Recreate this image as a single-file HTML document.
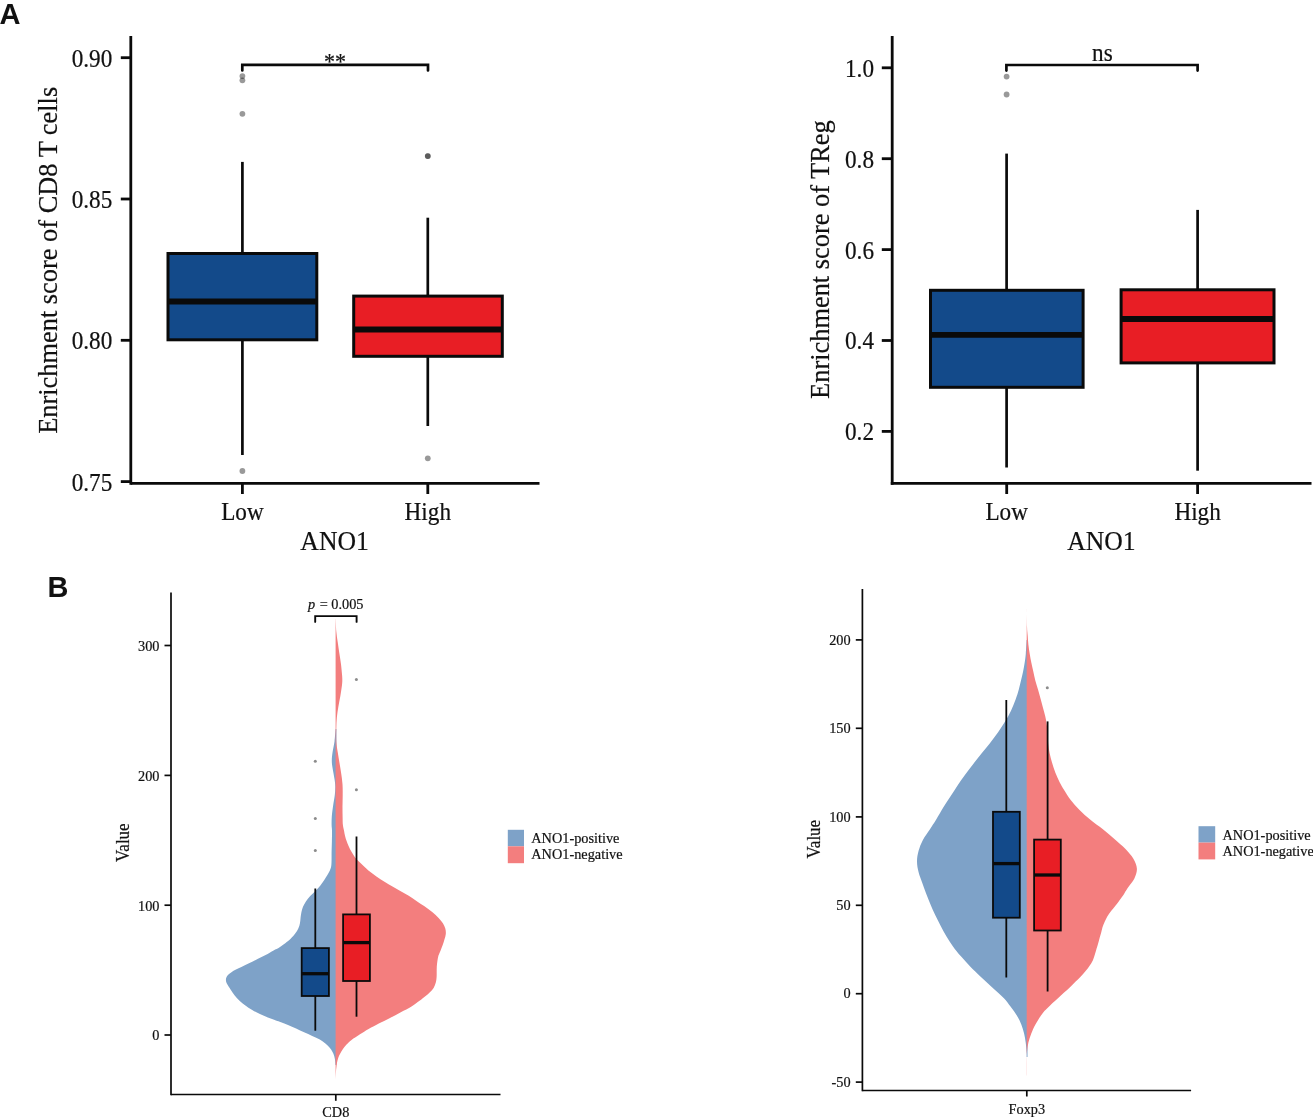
<!DOCTYPE html>
<html><head><meta charset="utf-8"><title>Figure</title>
<style>
html,body{margin:0;padding:0;background:#fff;}
body{width:1313px;height:1119px;overflow:hidden;font-family:"Liberation Serif",serif;}
svg{position:absolute;left:0;top:0;display:block;will-change:transform;}
text{fill:#111;}
</style></head><body>
<svg width="1313" height="1119" viewBox="0 0 1313 1119">
<rect width="1313" height="1119" fill="#fff"/>
<text transform="translate(-0.40,23.80) scale(0.970,0.990)" font-family="Liberation Sans, sans-serif" font-size="30.00" font-weight="bold" text-anchor="start" >A</text>
<text transform="translate(47.60,596.60) scale(0.965,1.010)" font-family="Liberation Sans, sans-serif" font-size="30.00" font-weight="bold" text-anchor="start" >B</text>
<line x1="242.40" y1="161.90" x2="242.40" y2="253.00" stroke="#0a0a0a" stroke-width="2.70" stroke-linecap="butt"/>
<line x1="242.40" y1="340.00" x2="242.40" y2="455.00" stroke="#0a0a0a" stroke-width="2.70" stroke-linecap="butt"/>
<line x1="427.80" y1="217.70" x2="427.80" y2="296.00" stroke="#0a0a0a" stroke-width="2.70" stroke-linecap="butt"/>
<line x1="427.80" y1="356.00" x2="427.80" y2="426.00" stroke="#0a0a0a" stroke-width="2.70" stroke-linecap="butt"/>
<rect x="168.00" y="253.50" width="148.80" height="86.30" fill="#134a8a" stroke="#0a0a0a" stroke-width="3.00"/>
<line x1="168.00" y1="301.50" x2="316.80" y2="301.50" stroke="#0a0a0a" stroke-width="5.80" stroke-linecap="butt"/>
<rect x="353.70" y="296.10" width="148.60" height="60.20" fill="#e81e25" stroke="#0a0a0a" stroke-width="3.00"/>
<line x1="353.70" y1="329.50" x2="502.30" y2="329.50" stroke="#0a0a0a" stroke-width="5.80" stroke-linecap="butt"/>
<circle cx="242.40" cy="76.10" r="2.90" fill="#000" fill-opacity="0.4"/>
<circle cx="242.40" cy="80.30" r="2.90" fill="#000" fill-opacity="0.4"/>
<circle cx="242.40" cy="113.80" r="2.90" fill="#000" fill-opacity="0.4"/>
<circle cx="242.40" cy="471.00" r="2.90" fill="#000" fill-opacity="0.4"/>
<circle cx="427.80" cy="156.10" r="2.90" fill="#000" fill-opacity="0.4"/>
<circle cx="427.80" cy="156.10" r="2.90" fill="#000" fill-opacity="0.4"/>
<circle cx="427.80" cy="458.30" r="2.90" fill="#000" fill-opacity="0.4"/>
<path d="M242.3,70.4 L242.3,64.9 L428,64.9 L428,70.4" fill="none" stroke="#0a0a0a" stroke-width="2.7" stroke-linecap="round" stroke-linejoin="miter"/>
<text transform="translate(335.00,68.60) scale(1.000,1.050)" font-family="Liberation Serif, serif" font-size="22.00" font-weight="normal" text-anchor="middle" stroke="#111" stroke-width="0.20" >**</text>
<line x1="130.80" y1="36.00" x2="130.80" y2="484.70" stroke="#0a0a0a" stroke-width="2.80" stroke-linecap="butt"/>
<line x1="130.80" y1="483.30" x2="539.50" y2="483.30" stroke="#0a0a0a" stroke-width="2.80" stroke-linecap="butt"/>
<line x1="120.80" y1="57.70" x2="130.80" y2="57.70" stroke="#0a0a0a" stroke-width="2.80" stroke-linecap="butt"/>
<text transform="translate(112.30,66.60) scale(1.000,1.050)" font-family="Liberation Serif, serif" font-size="23.20" font-weight="normal" text-anchor="end" stroke="#111" stroke-width="0.20" >0.90</text>
<line x1="120.80" y1="199.00" x2="130.80" y2="199.00" stroke="#0a0a0a" stroke-width="2.80" stroke-linecap="butt"/>
<text transform="translate(112.30,207.90) scale(1.000,1.050)" font-family="Liberation Serif, serif" font-size="23.20" font-weight="normal" text-anchor="end" stroke="#111" stroke-width="0.20" >0.85</text>
<line x1="120.80" y1="340.30" x2="130.80" y2="340.30" stroke="#0a0a0a" stroke-width="2.80" stroke-linecap="butt"/>
<text transform="translate(112.30,349.20) scale(1.000,1.050)" font-family="Liberation Serif, serif" font-size="23.20" font-weight="normal" text-anchor="end" stroke="#111" stroke-width="0.20" >0.80</text>
<line x1="120.80" y1="481.60" x2="130.80" y2="481.60" stroke="#0a0a0a" stroke-width="2.80" stroke-linecap="butt"/>
<text transform="translate(112.30,490.50) scale(1.000,1.050)" font-family="Liberation Serif, serif" font-size="23.20" font-weight="normal" text-anchor="end" stroke="#111" stroke-width="0.20" >0.75</text>
<line x1="242.40" y1="484.00" x2="242.40" y2="494.00" stroke="#0a0a0a" stroke-width="2.80" stroke-linecap="butt"/>
<text transform="translate(242.40,519.70) scale(1.000,1.050)" font-family="Liberation Serif, serif" font-size="23.20" font-weight="normal" text-anchor="middle" stroke="#111" stroke-width="0.20" >Low</text>
<line x1="427.80" y1="484.00" x2="427.80" y2="494.00" stroke="#0a0a0a" stroke-width="2.80" stroke-linecap="butt"/>
<text transform="translate(427.80,519.70) scale(1.000,1.050)" font-family="Liberation Serif, serif" font-size="23.20" font-weight="normal" text-anchor="middle" stroke="#111" stroke-width="0.20" >High</text>
<text transform="translate(334.60,550.00) scale(1.000,1.050)" font-family="Liberation Serif, serif" font-size="25.70" font-weight="normal" text-anchor="middle" stroke="#111" stroke-width="0.20" >ANO1</text>
<text transform="translate(57.00,260.30) rotate(-90) scale(1,1.050)" font-family="Liberation Serif, serif" font-size="26.40" text-anchor="middle" stroke="#111" stroke-width="0.20">Enrichment score of CD8 T cells</text>
<line x1="1006.60" y1="153.60" x2="1006.60" y2="290.00" stroke="#0a0a0a" stroke-width="2.70" stroke-linecap="butt"/>
<line x1="1006.60" y1="388.00" x2="1006.60" y2="467.50" stroke="#0a0a0a" stroke-width="2.70" stroke-linecap="butt"/>
<line x1="1197.60" y1="209.90" x2="1197.60" y2="290.00" stroke="#0a0a0a" stroke-width="2.70" stroke-linecap="butt"/>
<line x1="1197.60" y1="363.00" x2="1197.60" y2="470.70" stroke="#0a0a0a" stroke-width="2.70" stroke-linecap="butt"/>
<rect x="930.50" y="290.30" width="152.60" height="97.00" fill="#134a8a" stroke="#0a0a0a" stroke-width="3.00"/>
<line x1="930.50" y1="334.80" x2="1083.10" y2="334.80" stroke="#0a0a0a" stroke-width="5.80" stroke-linecap="butt"/>
<rect x="1121.10" y="289.80" width="152.90" height="73.10" fill="#e81e25" stroke="#0a0a0a" stroke-width="3.00"/>
<line x1="1121.10" y1="319.00" x2="1274.00" y2="319.00" stroke="#0a0a0a" stroke-width="5.80" stroke-linecap="butt"/>
<circle cx="1006.60" cy="76.60" r="2.90" fill="#000" fill-opacity="0.4"/>
<circle cx="1006.60" cy="94.50" r="2.90" fill="#000" fill-opacity="0.4"/>
<path d="M1006.4,70.6 L1006.4,65.0 L1197.6,65.0 L1197.6,70.6" fill="none" stroke="#0a0a0a" stroke-width="2.7" stroke-linecap="round" stroke-linejoin="miter"/>
<text transform="translate(1102.40,60.80) scale(1.000,1.050)" font-family="Liberation Serif, serif" font-size="23.20" font-weight="normal" text-anchor="middle" stroke="#111" stroke-width="0.20" >ns</text>
<line x1="892.20" y1="36.00" x2="892.20" y2="484.70" stroke="#0a0a0a" stroke-width="2.80" stroke-linecap="butt"/>
<line x1="890.80" y1="483.30" x2="1311.50" y2="483.30" stroke="#0a0a0a" stroke-width="2.80" stroke-linecap="butt"/>
<line x1="881.80" y1="67.80" x2="892.20" y2="67.80" stroke="#0a0a0a" stroke-width="2.80" stroke-linecap="butt"/>
<text transform="translate(874.00,76.70) scale(1.000,1.050)" font-family="Liberation Serif, serif" font-size="23.20" font-weight="normal" text-anchor="end" stroke="#111" stroke-width="0.20" >1.0</text>
<line x1="881.80" y1="158.70" x2="892.20" y2="158.70" stroke="#0a0a0a" stroke-width="2.80" stroke-linecap="butt"/>
<text transform="translate(874.00,167.60) scale(1.000,1.050)" font-family="Liberation Serif, serif" font-size="23.20" font-weight="normal" text-anchor="end" stroke="#111" stroke-width="0.20" >0.8</text>
<line x1="881.80" y1="249.60" x2="892.20" y2="249.60" stroke="#0a0a0a" stroke-width="2.80" stroke-linecap="butt"/>
<text transform="translate(874.00,258.50) scale(1.000,1.050)" font-family="Liberation Serif, serif" font-size="23.20" font-weight="normal" text-anchor="end" stroke="#111" stroke-width="0.20" >0.6</text>
<line x1="881.80" y1="340.50" x2="892.20" y2="340.50" stroke="#0a0a0a" stroke-width="2.80" stroke-linecap="butt"/>
<text transform="translate(874.00,349.40) scale(1.000,1.050)" font-family="Liberation Serif, serif" font-size="23.20" font-weight="normal" text-anchor="end" stroke="#111" stroke-width="0.20" >0.4</text>
<line x1="881.80" y1="431.40" x2="892.20" y2="431.40" stroke="#0a0a0a" stroke-width="2.80" stroke-linecap="butt"/>
<text transform="translate(874.00,440.30) scale(1.000,1.050)" font-family="Liberation Serif, serif" font-size="23.20" font-weight="normal" text-anchor="end" stroke="#111" stroke-width="0.20" >0.2</text>
<line x1="1006.70" y1="484.00" x2="1006.70" y2="494.00" stroke="#0a0a0a" stroke-width="2.80" stroke-linecap="butt"/>
<text transform="translate(1006.70,519.70) scale(1.000,1.050)" font-family="Liberation Serif, serif" font-size="23.20" font-weight="normal" text-anchor="middle" stroke="#111" stroke-width="0.20" >Low</text>
<line x1="1197.60" y1="484.00" x2="1197.60" y2="494.00" stroke="#0a0a0a" stroke-width="2.80" stroke-linecap="butt"/>
<text transform="translate(1197.60,519.70) scale(1.000,1.050)" font-family="Liberation Serif, serif" font-size="23.20" font-weight="normal" text-anchor="middle" stroke="#111" stroke-width="0.20" >High</text>
<text transform="translate(1101.40,550.00) scale(1.000,1.050)" font-family="Liberation Serif, serif" font-size="25.70" font-weight="normal" text-anchor="middle" stroke="#111" stroke-width="0.20" >ANO1</text>
<text transform="translate(829.10,259.60) rotate(-90) scale(1,1.050)" font-family="Liberation Serif, serif" font-size="26.40" text-anchor="middle" stroke="#111" stroke-width="0.20">Enrichment score of TReg</text>
<path d="M335.60,729.00 C335.42,731.07 335.00,737.55 334.50,741.40 C334.00,745.25 333.05,748.88 332.60,752.10 C332.15,755.32 331.80,758.02 331.80,760.70 C331.80,763.38 332.15,765.17 332.60,768.20 C333.05,771.23 334.05,775.87 334.50,778.90 C334.95,781.93 335.25,783.72 335.30,786.40 C335.35,789.08 335.17,791.78 334.80,795.00 C334.43,798.22 333.60,802.13 333.10,805.70 C332.60,809.27 332.05,813.18 331.80,816.40 C331.55,819.62 331.57,822.67 331.60,825.00 C331.63,827.33 331.95,827.72 332.00,830.40 C332.05,833.08 331.97,837.53 331.90,841.10 C331.83,844.67 331.67,848.23 331.60,851.80 C331.53,855.37 331.63,859.82 331.50,862.50 C331.37,865.18 331.32,866.10 330.80,867.90 C330.28,869.70 329.33,871.52 328.40,873.30 C327.47,875.08 326.53,876.58 325.20,878.60 C323.87,880.62 322.00,883.38 320.40,885.40 C318.80,887.42 317.30,888.92 315.60,890.70 C313.90,892.48 311.82,894.32 310.20,896.10 C308.58,897.88 307.10,899.62 305.90,901.40 C304.70,903.18 303.75,905.00 303.00,906.80 C302.25,908.60 301.80,910.42 301.40,912.20 C301.00,913.98 300.83,915.72 300.60,917.50 C300.37,919.28 300.37,921.10 300.00,922.90 C299.63,924.70 299.20,926.52 298.40,928.30 C297.60,930.08 296.53,931.82 295.20,933.60 C293.87,935.38 292.93,936.75 290.40,939.00 C287.87,941.25 282.80,945.18 280.00,947.10 C277.20,949.02 276.00,949.17 273.60,950.50 C271.20,951.83 268.28,953.67 265.60,955.10 C262.92,956.53 260.18,957.77 257.50,959.10 C254.82,960.43 252.18,961.80 249.50,963.10 C246.82,964.40 243.82,965.73 241.40,966.90 C238.98,968.07 236.95,968.98 235.00,970.10 C233.05,971.22 231.08,972.48 229.70,973.60 C228.32,974.72 227.33,975.73 226.70,976.80 C226.07,977.87 225.90,978.92 225.90,980.00 C225.90,981.08 226.25,982.22 226.70,983.30 C227.15,984.38 227.90,985.38 228.60,986.50 C229.30,987.62 229.92,988.55 230.90,990.00 C231.88,991.45 233.07,993.42 234.50,995.20 C235.93,996.98 237.68,998.98 239.50,1000.70 C241.32,1002.42 243.35,1003.98 245.40,1005.50 C247.45,1007.02 249.38,1008.37 251.80,1009.80 C254.22,1011.23 257.22,1012.80 259.90,1014.10 C262.58,1015.40 265.23,1016.52 267.90,1017.60 C270.57,1018.68 273.72,1019.83 275.90,1020.60 C278.08,1021.37 278.98,1021.48 281.00,1022.20 C283.02,1022.92 285.48,1023.87 288.00,1024.90 C290.52,1025.93 293.42,1027.18 296.10,1028.40 C298.78,1029.62 301.42,1030.95 304.10,1032.20 C306.78,1033.45 309.58,1034.67 312.20,1035.90 C314.82,1037.13 317.60,1038.33 319.80,1039.60 C322.00,1040.87 323.78,1042.17 325.40,1043.50 C327.02,1044.83 328.33,1046.22 329.50,1047.60 C330.67,1048.98 331.62,1050.40 332.40,1051.80 C333.18,1053.20 333.75,1054.55 334.20,1056.00 C334.65,1057.45 334.88,1059.00 335.10,1060.50 C335.32,1062.00 335.43,1064.25 335.50,1065.00 L336.40,1065.00 L336.40,729.00 Z" fill="#7ea2c8"/>
<path d="M335.70,619.10 C335.80,621.15 335.97,627.57 336.30,631.40 C336.63,635.23 337.20,638.52 337.70,642.10 C338.20,645.68 338.77,649.32 339.30,652.90 C339.83,656.48 340.45,660.03 340.90,663.60 C341.35,667.17 341.77,671.63 342.00,674.30 C342.23,676.97 342.30,677.82 342.30,679.60 C342.30,681.38 342.32,682.32 342.00,685.00 C341.68,687.68 341.00,692.13 340.40,695.70 C339.80,699.27 338.98,702.83 338.40,706.40 C337.82,709.97 337.25,713.33 336.90,717.10 C336.55,720.87 336.40,724.95 336.30,729.00 C336.20,733.05 336.07,737.55 336.30,741.40 C336.53,745.25 337.17,748.52 337.70,752.10 C338.23,755.68 338.92,759.32 339.50,762.90 C340.08,766.48 340.70,770.03 341.20,773.60 C341.70,777.17 342.25,780.73 342.50,784.30 C342.75,787.87 342.70,791.43 342.70,795.00 C342.70,798.57 342.52,802.13 342.50,805.70 C342.48,809.27 342.53,813.18 342.60,816.40 C342.67,819.62 342.67,822.67 342.90,825.00 C343.13,827.33 343.65,828.62 344.00,830.40 C344.35,832.18 344.57,833.92 345.00,835.70 C345.43,837.48 345.97,839.32 346.60,841.10 C347.23,842.88 347.98,844.62 348.80,846.40 C349.62,848.18 350.45,849.95 351.50,851.80 C352.55,853.65 353.65,855.67 355.10,857.50 C356.55,859.33 357.98,860.63 360.20,862.80 C362.42,864.97 365.70,868.23 368.40,870.50 C371.10,872.77 373.72,874.52 376.40,876.40 C379.08,878.28 381.82,880.10 384.50,881.80 C387.18,883.50 389.87,885.07 392.50,886.60 C395.13,888.13 397.67,889.50 400.30,891.00 C402.93,892.50 405.67,893.98 408.30,895.60 C410.93,897.22 413.47,898.95 416.10,900.70 C418.73,902.45 421.42,904.22 424.10,906.10 C426.78,907.98 429.78,910.03 432.20,912.00 C434.62,913.97 436.82,916.03 438.60,917.90 C440.38,919.77 441.78,921.42 442.90,923.20 C444.02,924.98 444.82,926.80 445.30,928.60 C445.78,930.40 445.93,932.22 445.80,934.00 C445.67,935.78 445.00,937.50 444.50,939.30 C444.00,941.10 443.45,942.95 442.80,944.80 C442.15,946.65 441.33,948.58 440.60,950.40 C439.87,952.22 438.93,953.92 438.40,955.70 C437.87,957.48 437.67,959.32 437.40,961.10 C437.13,962.88 436.92,964.62 436.80,966.40 C436.68,968.18 436.73,970.00 436.70,971.80 C436.67,973.60 436.75,975.42 436.60,977.20 C436.45,978.98 436.30,980.72 435.80,982.50 C435.30,984.28 434.58,986.28 433.60,987.90 C432.62,989.52 431.33,990.77 429.90,992.20 C428.47,993.63 426.73,995.07 425.00,996.50 C423.27,997.93 421.75,999.15 419.50,1000.80 C417.25,1002.45 414.62,1004.50 411.50,1006.40 C408.38,1008.30 404.38,1010.28 400.80,1012.20 C397.22,1014.12 393.58,1016.07 390.00,1017.90 C386.42,1019.73 382.87,1021.35 379.30,1023.20 C375.73,1025.05 371.82,1027.15 368.60,1029.00 C365.38,1030.85 362.85,1032.47 360.00,1034.30 C357.15,1036.13 353.78,1038.25 351.50,1040.00 C349.22,1041.75 347.75,1043.27 346.30,1044.80 C344.85,1046.33 343.83,1047.70 342.80,1049.20 C341.77,1050.70 340.87,1052.35 340.10,1053.80 C339.33,1055.25 338.70,1056.48 338.20,1057.90 C337.70,1059.32 337.38,1060.82 337.10,1062.30 C336.82,1063.78 336.68,1065.30 336.50,1066.80 C336.32,1068.30 336.15,1069.18 336.00,1071.30 C335.85,1073.42 335.67,1078.13 335.60,1079.50 L335.60,1079.50 L335.60,619.10 Z" fill="#f37e7e"/>
<line x1="315.30" y1="888.50" x2="315.30" y2="948.00" stroke="#0a0a0a" stroke-width="1.80" stroke-linecap="butt"/>
<line x1="315.30" y1="996.00" x2="315.30" y2="1030.70" stroke="#0a0a0a" stroke-width="1.80" stroke-linecap="butt"/>
<line x1="356.50" y1="836.50" x2="356.50" y2="914.00" stroke="#0a0a0a" stroke-width="1.80" stroke-linecap="butt"/>
<line x1="356.50" y1="981.00" x2="356.50" y2="1016.70" stroke="#0a0a0a" stroke-width="1.80" stroke-linecap="butt"/>
<rect x="301.70" y="948.10" width="27.20" height="47.90" fill="#134a8a" stroke="#0a0a0a" stroke-width="1.80"/>
<line x1="301.70" y1="973.70" x2="328.90" y2="973.70" stroke="#0a0a0a" stroke-width="3.30" stroke-linecap="butt"/>
<rect x="343.10" y="914.40" width="26.80" height="66.60" fill="#e81e25" stroke="#0a0a0a" stroke-width="1.80"/>
<line x1="343.10" y1="942.60" x2="369.90" y2="942.60" stroke="#0a0a0a" stroke-width="3.30" stroke-linecap="butt"/>
<circle cx="315.30" cy="761.30" r="1.50" fill="#8c8c8c"/>
<circle cx="315.30" cy="818.40" r="1.50" fill="#8c8c8c"/>
<circle cx="315.30" cy="850.60" r="1.50" fill="#8c8c8c"/>
<circle cx="356.40" cy="679.50" r="1.50" fill="#8c8c8c"/>
<circle cx="356.40" cy="789.70" r="1.50" fill="#8c8c8c"/>
<path d="M315.2,621.9 L315.2,616.1 L356.6,616.1 L356.6,621.9" fill="none" stroke="#0a0a0a" stroke-width="1.9" stroke-linecap="round"/>
<text transform="translate(0,609.3) scale(1,1.050)" font-family="Liberation Serif, serif" font-size="14.3" stroke="#111" stroke-width="0.20"><tspan x="307.9" font-style="italic">p</tspan><tspan x="319.8">=</tspan><tspan x="331.3">0.005</tspan></text>
<line x1="171.00" y1="592.40" x2="171.00" y2="1095.30" stroke="#0a0a0a" stroke-width="1.70" stroke-linecap="butt"/>
<line x1="171.00" y1="1094.50" x2="500.50" y2="1094.50" stroke="#0a0a0a" stroke-width="1.70" stroke-linecap="butt"/>
<line x1="164.50" y1="1035.00" x2="171.00" y2="1035.00" stroke="#0a0a0a" stroke-width="1.70" stroke-linecap="butt"/>
<text transform="translate(159.50,1040.30) scale(1.000,1.050)" font-family="Liberation Serif, serif" font-size="14.30" font-weight="normal" text-anchor="end" stroke="#111" stroke-width="0.20" >0</text>
<line x1="164.50" y1="905.20" x2="171.00" y2="905.20" stroke="#0a0a0a" stroke-width="1.70" stroke-linecap="butt"/>
<text transform="translate(159.50,910.50) scale(1.000,1.050)" font-family="Liberation Serif, serif" font-size="14.30" font-weight="normal" text-anchor="end" stroke="#111" stroke-width="0.20" >100</text>
<line x1="164.50" y1="775.40" x2="171.00" y2="775.40" stroke="#0a0a0a" stroke-width="1.70" stroke-linecap="butt"/>
<text transform="translate(159.50,780.70) scale(1.000,1.050)" font-family="Liberation Serif, serif" font-size="14.30" font-weight="normal" text-anchor="end" stroke="#111" stroke-width="0.20" >200</text>
<line x1="164.50" y1="645.50" x2="171.00" y2="645.50" stroke="#0a0a0a" stroke-width="1.70" stroke-linecap="butt"/>
<text transform="translate(159.50,650.80) scale(1.000,1.050)" font-family="Liberation Serif, serif" font-size="14.30" font-weight="normal" text-anchor="end" stroke="#111" stroke-width="0.20" >300</text>
<line x1="335.80" y1="1095.00" x2="335.80" y2="1100.80" stroke="#0a0a0a" stroke-width="1.70" stroke-linecap="butt"/>
<text transform="translate(335.80,1117.20) scale(1.000,1.050)" font-family="Liberation Serif, serif" font-size="14.30" font-weight="normal" text-anchor="middle" stroke="#111" stroke-width="0.20" >CD8</text>
<text transform="translate(128.60,842.70) rotate(-90) scale(1,1.050)" font-family="Liberation Serif, serif" font-size="17.00" text-anchor="middle" stroke="#111" stroke-width="0.20">Value</text>
<rect x="507.8" y="829.8" width="16.2" height="16.5" fill="#7ea2c8"/>
<rect x="507.8" y="846.3" width="16.2" height="16.9" fill="#f37e7e"/>
<text transform="translate(531.30,842.60) scale(1.000,1.050)" font-family="Liberation Serif, serif" font-size="14.30" font-weight="normal" text-anchor="start" stroke="#111" stroke-width="0.20" >ANO1-positive</text>
<text transform="translate(531.30,859.40) scale(1.000,1.050)" font-family="Liberation Serif, serif" font-size="14.30" font-weight="normal" text-anchor="start" stroke="#111" stroke-width="0.20" >ANO1-negative</text>
<path d="M1026.65,640.00 C1026.51,642.28 1026.12,649.93 1025.80,653.70 C1025.47,657.47 1025.15,659.62 1024.70,662.60 C1024.25,665.58 1023.72,668.62 1023.10,671.60 C1022.48,674.58 1021.72,677.53 1021.00,680.50 C1020.28,683.47 1019.70,686.23 1018.80,689.40 C1017.90,692.57 1016.90,695.95 1015.60,699.50 C1014.30,703.05 1012.75,707.03 1011.00,710.70 C1009.25,714.37 1007.25,717.92 1005.10,721.50 C1002.95,725.08 1000.60,728.63 998.10,732.20 C995.60,735.77 992.87,739.33 990.10,742.90 C987.33,746.47 984.37,750.02 981.50,753.60 C978.63,757.18 975.67,760.82 972.90,764.40 C970.13,767.98 967.48,771.53 964.90,775.10 C962.32,778.67 959.82,782.22 957.40,785.80 C954.98,789.38 952.73,793.02 950.40,796.60 C948.07,800.18 945.77,803.48 943.40,807.30 C941.03,811.12 938.47,815.80 936.20,819.50 C933.93,823.20 932.02,826.08 929.80,829.50 C927.58,832.92 924.77,836.47 922.90,840.00 C921.03,843.53 919.58,847.13 918.60,850.70 C917.62,854.27 917.00,857.82 917.00,861.40 C917.00,864.98 917.72,868.62 918.60,872.20 C919.48,875.78 921.05,879.33 922.30,882.90 C923.55,886.47 924.75,890.03 926.10,893.60 C927.45,897.17 928.88,900.72 930.40,904.30 C931.92,907.88 933.50,911.52 935.20,915.10 C936.90,918.68 938.72,922.23 940.60,925.80 C942.48,929.37 944.43,933.05 946.50,936.50 C948.57,939.95 950.63,943.23 953.00,946.50 C955.37,949.77 957.80,952.72 960.70,956.10 C963.60,959.48 967.12,963.40 970.40,966.80 C973.68,970.20 976.80,973.10 980.40,976.50 C984.00,979.90 988.12,983.63 992.00,987.20 C995.88,990.77 1000.58,994.63 1003.70,997.90 C1006.82,1001.17 1008.48,1003.83 1010.70,1006.80 C1012.92,1009.77 1015.22,1012.72 1017.00,1015.70 C1018.78,1018.68 1020.22,1021.72 1021.40,1024.70 C1022.58,1027.68 1023.38,1030.62 1024.10,1033.60 C1024.82,1036.58 1025.30,1039.62 1025.70,1042.60 C1026.10,1045.58 1026.34,1049.10 1026.50,1051.50 C1026.66,1053.90 1026.62,1056.08 1026.65,1057.00 L1027.50,1057.00 L1027.50,640.00 Z" fill="#7ea2c8"/>
<path d="M1026.65,608.90 C1026.71,611.88 1026.83,622.32 1027.00,626.80 C1027.17,631.28 1027.47,632.82 1027.70,635.80 C1027.93,638.78 1028.07,641.72 1028.40,644.70 C1028.73,647.68 1029.22,650.72 1029.70,653.70 C1030.18,656.68 1030.70,659.62 1031.30,662.60 C1031.90,665.58 1032.63,668.62 1033.30,671.60 C1033.97,674.58 1034.52,677.53 1035.30,680.50 C1036.08,683.47 1037.13,686.42 1038.00,689.40 C1038.87,692.38 1039.68,695.38 1040.50,698.40 C1041.32,701.42 1042.10,704.48 1042.90,707.50 C1043.70,710.52 1044.63,713.50 1045.30,716.50 C1045.97,719.50 1046.52,722.50 1046.90,725.50 C1047.28,728.50 1047.38,731.50 1047.60,734.50 C1047.82,737.50 1047.87,740.42 1048.20,743.50 C1048.53,746.58 1048.97,749.83 1049.60,753.00 C1050.23,756.17 1051.05,759.25 1052.00,762.50 C1052.95,765.75 1054.05,769.25 1055.30,772.50 C1056.55,775.75 1058.03,779.08 1059.50,782.00 C1060.97,784.92 1062.27,787.03 1064.10,790.00 C1065.93,792.97 1067.97,796.52 1070.50,799.80 C1073.03,803.08 1076.03,806.42 1079.30,809.70 C1082.57,812.98 1086.17,816.23 1090.10,819.50 C1094.03,822.77 1098.80,826.02 1102.90,829.30 C1107.00,832.58 1110.93,835.92 1114.70,839.20 C1118.47,842.48 1122.38,845.73 1125.50,849.00 C1128.62,852.27 1131.50,855.52 1133.40,858.80 C1135.30,862.08 1136.73,865.42 1136.90,868.70 C1137.07,871.98 1135.97,875.23 1134.40,878.50 C1132.83,881.77 1129.33,885.55 1127.50,888.30 C1125.67,891.05 1124.75,892.98 1123.40,895.00 C1122.05,897.02 1120.73,898.62 1119.40,900.40 C1118.07,902.18 1116.78,903.92 1115.40,905.70 C1114.02,907.48 1112.45,909.32 1111.10,911.10 C1109.75,912.88 1108.37,914.62 1107.30,916.40 C1106.23,918.18 1105.50,920.00 1104.70,921.80 C1103.90,923.60 1103.08,925.42 1102.50,927.20 C1101.92,928.98 1101.68,930.72 1101.20,932.50 C1100.72,934.28 1100.10,936.10 1099.60,937.90 C1099.10,939.70 1098.70,941.52 1098.20,943.30 C1097.70,945.08 1097.13,946.82 1096.60,948.60 C1096.07,950.38 1095.63,952.03 1095.00,954.00 C1094.37,955.97 1093.70,958.45 1092.80,960.40 C1091.90,962.35 1090.80,963.92 1089.60,965.70 C1088.40,967.48 1087.07,969.32 1085.60,971.10 C1084.13,972.88 1082.50,974.62 1080.80,976.40 C1079.10,978.18 1077.20,980.00 1075.40,981.80 C1073.60,983.60 1071.88,985.42 1070.00,987.20 C1068.12,988.98 1066.07,990.72 1064.10,992.50 C1062.13,994.28 1060.17,996.10 1058.20,997.90 C1056.23,999.70 1054.17,1001.52 1052.30,1003.30 C1050.43,1005.08 1048.70,1006.82 1047.00,1008.60 C1045.30,1010.38 1044.05,1011.32 1042.10,1014.00 C1040.15,1016.68 1037.10,1021.43 1035.30,1024.70 C1033.50,1027.97 1032.45,1030.62 1031.30,1033.60 C1030.15,1036.58 1029.12,1039.62 1028.40,1042.60 C1027.68,1045.58 1027.30,1048.53 1027.00,1051.50 C1026.70,1054.47 1026.67,1056.38 1026.60,1060.40 C1026.53,1064.42 1026.60,1073.07 1026.60,1075.60 L1026.70,1075.60 L1026.70,608.90 Z" fill="#f37e7e"/>
<line x1="1006.30" y1="700.00" x2="1006.30" y2="812.00" stroke="#0a0a0a" stroke-width="1.80" stroke-linecap="butt"/>
<line x1="1006.30" y1="918.00" x2="1006.30" y2="977.50" stroke="#0a0a0a" stroke-width="1.80" stroke-linecap="butt"/>
<line x1="1047.60" y1="721.40" x2="1047.60" y2="839.00" stroke="#0a0a0a" stroke-width="1.80" stroke-linecap="butt"/>
<line x1="1047.60" y1="931.00" x2="1047.60" y2="991.50" stroke="#0a0a0a" stroke-width="1.80" stroke-linecap="butt"/>
<rect x="993.00" y="811.80" width="26.80" height="105.90" fill="#134a8a" stroke="#0a0a0a" stroke-width="1.80"/>
<line x1="993.00" y1="863.60" x2="1019.80" y2="863.60" stroke="#0a0a0a" stroke-width="3.30" stroke-linecap="butt"/>
<rect x="1034.10" y="839.60" width="26.70" height="90.90" fill="#e81e25" stroke="#0a0a0a" stroke-width="1.80"/>
<line x1="1034.10" y1="875.00" x2="1060.80" y2="875.00" stroke="#0a0a0a" stroke-width="3.30" stroke-linecap="butt"/>
<circle cx="1047.30" cy="687.80" r="1.50" fill="#8c8c8c"/>
<line x1="862.40" y1="589.00" x2="862.40" y2="1091.30" stroke="#0a0a0a" stroke-width="1.70" stroke-linecap="butt"/>
<line x1="862.40" y1="1090.50" x2="1191.10" y2="1090.50" stroke="#0a0a0a" stroke-width="1.70" stroke-linecap="butt"/>
<line x1="855.80" y1="639.90" x2="862.40" y2="639.90" stroke="#0a0a0a" stroke-width="1.70" stroke-linecap="butt"/>
<text transform="translate(850.60,644.50) scale(1.000,1.050)" font-family="Liberation Serif, serif" font-size="14.30" font-weight="normal" text-anchor="end" stroke="#111" stroke-width="0.20" >200</text>
<line x1="855.80" y1="728.30" x2="862.40" y2="728.30" stroke="#0a0a0a" stroke-width="1.70" stroke-linecap="butt"/>
<text transform="translate(850.60,732.90) scale(1.000,1.050)" font-family="Liberation Serif, serif" font-size="14.30" font-weight="normal" text-anchor="end" stroke="#111" stroke-width="0.20" >150</text>
<line x1="855.80" y1="816.90" x2="862.40" y2="816.90" stroke="#0a0a0a" stroke-width="1.70" stroke-linecap="butt"/>
<text transform="translate(850.60,821.50) scale(1.000,1.050)" font-family="Liberation Serif, serif" font-size="14.30" font-weight="normal" text-anchor="end" stroke="#111" stroke-width="0.20" >100</text>
<line x1="855.80" y1="905.30" x2="862.40" y2="905.30" stroke="#0a0a0a" stroke-width="1.70" stroke-linecap="butt"/>
<text transform="translate(850.60,909.90) scale(1.000,1.050)" font-family="Liberation Serif, serif" font-size="14.30" font-weight="normal" text-anchor="end" stroke="#111" stroke-width="0.20" >50</text>
<line x1="855.80" y1="993.70" x2="862.40" y2="993.70" stroke="#0a0a0a" stroke-width="1.70" stroke-linecap="butt"/>
<text transform="translate(850.60,998.30) scale(1.000,1.050)" font-family="Liberation Serif, serif" font-size="14.30" font-weight="normal" text-anchor="end" stroke="#111" stroke-width="0.20" >0</text>
<line x1="855.80" y1="1082.10" x2="862.40" y2="1082.10" stroke="#0a0a0a" stroke-width="1.70" stroke-linecap="butt"/>
<text transform="translate(850.60,1086.70) scale(1.000,1.050)" font-family="Liberation Serif, serif" font-size="14.30" font-weight="normal" text-anchor="end" stroke="#111" stroke-width="0.20" >-50</text>
<line x1="1026.80" y1="1090.50" x2="1026.80" y2="1096.50" stroke="#0a0a0a" stroke-width="1.70" stroke-linecap="butt"/>
<text transform="translate(1026.80,1113.60) scale(1.000,1.050)" font-family="Liberation Serif, serif" font-size="14.30" font-weight="normal" text-anchor="middle" stroke="#111" stroke-width="0.20" >Foxp3</text>
<text transform="translate(819.60,839.20) rotate(-90) scale(1,1.050)" font-family="Liberation Serif, serif" font-size="17.00" text-anchor="middle" stroke="#111" stroke-width="0.20">Value</text>
<rect x="1198.5" y="826.2" width="16.7" height="16.4" fill="#7ea2c8"/>
<rect x="1198.5" y="842.6" width="16.7" height="16.8" fill="#f37e7e"/>
<text transform="translate(1222.50,839.60) scale(1.000,1.050)" font-family="Liberation Serif, serif" font-size="14.30" font-weight="normal" text-anchor="start" stroke="#111" stroke-width="0.20" >ANO1-positive</text>
<text transform="translate(1222.50,856.10) scale(1.000,1.050)" font-family="Liberation Serif, serif" font-size="14.30" font-weight="normal" text-anchor="start" stroke="#111" stroke-width="0.20" >ANO1-negative</text>
</svg>
</body></html>
